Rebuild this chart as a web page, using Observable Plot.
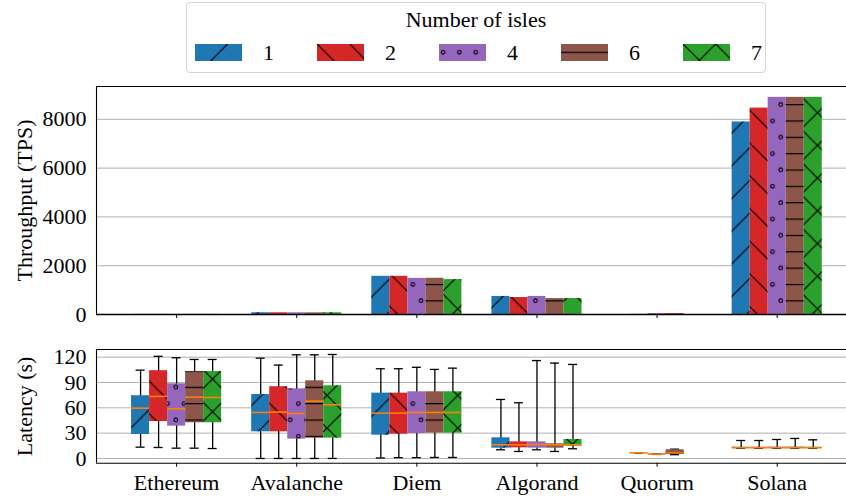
<!DOCTYPE html>
<html>
<head>
<meta charset="utf-8">
<script src="https://cdn.jsdelivr.net/npm/d3@7"></script>
<script src="https://cdn.jsdelivr.net/npm/@observablehq/plot@0.6"></script>
<style>
  html, body { margin: 0; padding: 0; background: #fff; }
  #wrap { position: relative; width: 846px; height: 497px; overflow: hidden; font-family: "Liberation Serif", serif; color: #000; }
  #wrap > div.panel { position: absolute; left: 0; }
  #legend { position: absolute; left: 186px; top: 2px; width: 578px; height: 69px; border: 1px solid #d4d4d4; border-radius: 4px; background: #fff; }
  #legend .ltitle { position: absolute; left: 0; width: 100%; top: 6px; text-align: center; font-size: 22px; line-height: 22px; }
  #legend .lentry { position: absolute; top: 40px; height: 18px; }
  #legend .lentry svg { position: absolute; left: 0; top: 1px; }
  #legend .lentry span { position: absolute; top: -1px; font-size: 22px; line-height: 22px; }
</style>
</head>
<body>
<svg width="0" height="0" style="position:absolute">
  <defs>
    <pattern id="h1" patternUnits="userSpaceOnUse" width="32.7" height="32.7">
      <path d="M-2,34.7 L34.7,-2" stroke="#000" stroke-width="1.2" fill="none"/>
    </pattern>
    <pattern id="h2" patternUnits="userSpaceOnUse" width="32.7" height="32.7">
      <path d="M-2,-2 L34.7,34.7" stroke="#000" stroke-width="1.2" fill="none"/>
    </pattern>
    <pattern id="h4" patternUnits="userSpaceOnUse" width="16.35" height="32.7">
      <circle cx="4.1" cy="8.2" r="1.8" stroke="#000" stroke-width="1.1" fill="none"/>
      <circle cx="12.25" cy="24.5" r="1.8" stroke="#000" stroke-width="1.1" fill="none"/>
    </pattern>
    <pattern id="h6" patternUnits="userSpaceOnUse" width="32.7" height="16.35">
      <path d="M-1,8.2 L33.7,8.2" stroke="#000" stroke-width="1.2" fill="none"/>
    </pattern>
    <pattern id="h7" patternUnits="userSpaceOnUse" width="32.7" height="32.7">
      <path d="M-2,34.7 L34.7,-2 M-2,-2 L34.7,34.7" stroke="#000" stroke-width="1.2" fill="none"/>
    </pattern>
  </defs>
</svg>
<div id="wrap">
  <div id="legend"></div>
  <div class="panel" id="top" style="top:80px"></div>
  <div class="panel" id="bottom" style="top:330px"></div>
</div>
<script>
// ---------- data ----------
const chains = ["Ethereum", "Avalanche", "Diem", "Algorand", "Quorum", "Solana"];
const isles = [1, 2, 4, 6, 7];
const colors = ["#1f77b4", "#d62728", "#9467bd", "#8c564b", "#2ca02c"];
const hatchIds = ["h1", "h2", "h4", "h6", "h7"];
const legendTitle = "Number of isles";

// throughput (TPS), one array per number of isles, in chain order
const tps1 = [4, 72, 1565, 740, null, 7890];
const tps2 = [4, 70, 1565, 695, 5, 8460];
const tps4 = [4, 70, 1480, 740, 40, 8900];
const tps6 = [4, 68, 1485, 654, 40, 8900];
const tps7 = [4, 70, 1430, 654, null, 8900];
const tpsTicks = [0, 2000, 4000, 6000, 8000];

// latency (s) five-number summaries per number of isles:
// [lower whisker, q1, median, q3, upper whisker]
const latEthereum  = [[13.4, 28.4, 59.6, 74.3, 104.6], [13, 43.8, 73.5, 104, 121], [12.2, 38.3, 58.9, 88.5, 119.3], [12.2, 42.3, 72.7, 103, 117.3], [11.8, 42.3, 72.3, 103, 117.3]];
const latAvalanche = [[0, 31.6, 54.5, 75.8, 118.8], [0, 31.6, 54.9, 85, 110.6], [0, 22.9, 53.3, 82.5, 122.8], [0, 24.1, 67.9, 92, 122.8], [0, 24.1, 63.6, 86.1, 123.2]];
const latDiem      = [[0.6, 27.6, 53.7, 77.4, 106.3], [1, 28.8, 53.7, 77.4, 106.3], [1, 29.5, 54.5, 79, 108], [1.2, 30, 54.5, 79, 105.5], [1.2, 30, 54.5, 79, 107]];
const latAlgorand  = [[10.3, 12.2, 16.2, 24.5, 69.9], [8.3, 12.6, 16.2, 19.7, 66], [10.3, 12.2, 16.6, 19.7, 116], [8.3, 12.2, 16.2, 17.4, 113], [11.5, 14.6, 16.2, 22.5, 111.4]];
const latQuorum    = [null, [6.5, 6.6, 6.7, 6.8, 6.9], [4.8, 4.9, 5.1, 5.2, 5.4], [4.5, 4.7, 6.6, 10.3, 11], null];
const latSolana    = [[12, 12.3, 12.7, 13.3, 21.3], [12, 12.3, 12.7, 13.3, 21.3], [12, 12.3, 12.7, 13.5, 22.5], [12, 12.3, 12.7, 13.5, 23.7], [12, 12.3, 12.7, 13.3, 22.1]];
const latTicks = [0, 30, 60, 90, 120];

// ---------- layout ----------
const tpsSeries = [tps1, tps2, tps4, tps6, tps7];
const latByChain = [latEthereum, latAvalanche, latDiem, latAlgorand, latQuorum, latSolana];
const xDomain = [-0.667, 5.577];
const tpsDomain = [0, 9345];
const latDomain = [-5.6, 129.1];
const barW = 0.15;
const off = s => (s - 2) * barW;
const font = {fontFamily: "'Liberation Serif', serif", fontSize: "22px", color: "#000", background: "transparent", overflow: "visible"};

// ---------- top panel: throughput ----------
const topMarks = [Plot.ruleY(tpsTicks, {stroke: "#b0b0b0", strokeWidth: 1})];
isles.forEach((n, s) => {
  const data = chains.map((c, i) => ({i, v: tpsSeries[s][i]})).filter(d => d.v != null);
  const opts = {x1: d => d.i + off(s) - barW / 2, x2: d => d.i + off(s) + barW / 2, y1: d => 0, y2: d => d.v};
  topMarks.push(Plot.rect(data, {...opts, fill: colors[s]}));
  topMarks.push(Plot.rect(data, {...opts, fill: `url(#${hatchIds[s]})`}));
});
topMarks.push(
  Plot.ruleY([tpsDomain[1]], {stroke: "#000", strokeWidth: 1.1}),
  Plot.ruleY([tpsDomain[0]], {stroke: "#000", strokeWidth: 1.3}),
  Plot.ruleX([xDomain[0]], {stroke: "#000", strokeWidth: 1.1})
);
const topPlot = Plot.plot({
  width: 846, height: 240,
  marginLeft: 96, marginRight: 0, marginTop: 6, marginBottom: 6,
  style: font,
  x: {domain: xDomain, ticks: chains.map((c, i) => i), tickFormat: () => "", tickSize: 4, label: null},
  y: {domain: tpsDomain, ticks: tpsTicks, tickFormat: d3.format("d"), tickSize: 0, tickPadding: 10,
      label: "Throughput (TPS)", labelAnchor: "center", labelOffset: 80, labelArrow: "none"},
  marks: topMarks
});
document.getElementById("top").appendChild(topPlot);

// ---------- bottom panel: latency ----------
const botMarks = [Plot.ruleY(latTicks, {stroke: "#b0b0b0", strokeWidth: 1})];
isles.forEach((n, s) => {
  const data = chains.map((c, i) => ({i, q: latByChain[i][s]})).filter(d => d.q != null);
  const cx = d => d.i + off(s);
  botMarks.push(Plot.ruleX(data, {x: cx, y1: d => d.q[0], y2: d => d.q[4], stroke: "#000", strokeWidth: 1.3}));
  botMarks.push(Plot.ruleY(data, {y: d => d.q[0], x1: d => cx(d) - barW / 4, x2: d => cx(d) + barW / 4, stroke: "#000", strokeWidth: 1.3}));
  botMarks.push(Plot.ruleY(data, {y: d => d.q[4], x1: d => cx(d) - barW / 4, x2: d => cx(d) + barW / 4, stroke: "#000", strokeWidth: 1.3}));
  const box = {x1: d => cx(d) - barW / 2, x2: d => cx(d) + barW / 2, y1: d => d.q[1], y2: d => d.q[3]};
  botMarks.push(Plot.rect(data, {...box, fill: colors[s]}));
  botMarks.push(Plot.rect(data, {...box, fill: `url(#${hatchIds[s]})`}));
  botMarks.push(Plot.ruleY(data, {y: d => d.q[2], x1: d => cx(d) - barW / 2, x2: d => cx(d) + barW / 2, stroke: "#ff7f0e", strokeWidth: 1.6}));
});
botMarks.push(
  Plot.ruleY([latDomain[1]], {stroke: "#000", strokeWidth: 1.1}),
  Plot.ruleY([latDomain[0]], {stroke: "#000", strokeWidth: 1.1}),
  Plot.ruleX([xDomain[0]], {stroke: "#000", strokeWidth: 1.1})
);
const botPlot = Plot.plot({
  width: 846, height: 167,
  marginLeft: 96, marginRight: 0, marginTop: 19, marginBottom: 34.3,
  style: font,
  x: {domain: xDomain, ticks: chains.map((c, i) => i), tickFormat: i => chains[i], tickSize: 4, tickPadding: 7, label: null},
  y: {domain: latDomain, ticks: latTicks, tickFormat: d3.format("d"), tickSize: 0, tickPadding: 10,
      label: "Latency (s)", labelAnchor: "center", labelOffset: 80, labelArrow: "none"},
  marks: botMarks
});
document.getElementById("bottom").appendChild(botPlot);

// ---------- legend ----------
const legend = document.getElementById("legend");
const t = document.createElement("div");
t.className = "ltitle";
t.textContent = legendTitle;
legend.appendChild(t);
isles.forEach((n, s) => {
  const e = document.createElement("div");
  e.className = "lentry";
  e.style.left = (8 + s * 122) + "px";
  e.innerHTML = `<svg width="47" height="17"><rect width="47" height="17" fill="${colors[s]}"/><rect width="47" height="17" fill="url(#${hatchIds[s]})"/></svg><span style="left:68px">${n}</span>`;
  legend.appendChild(e);
});
</script>
</body>
</html>
